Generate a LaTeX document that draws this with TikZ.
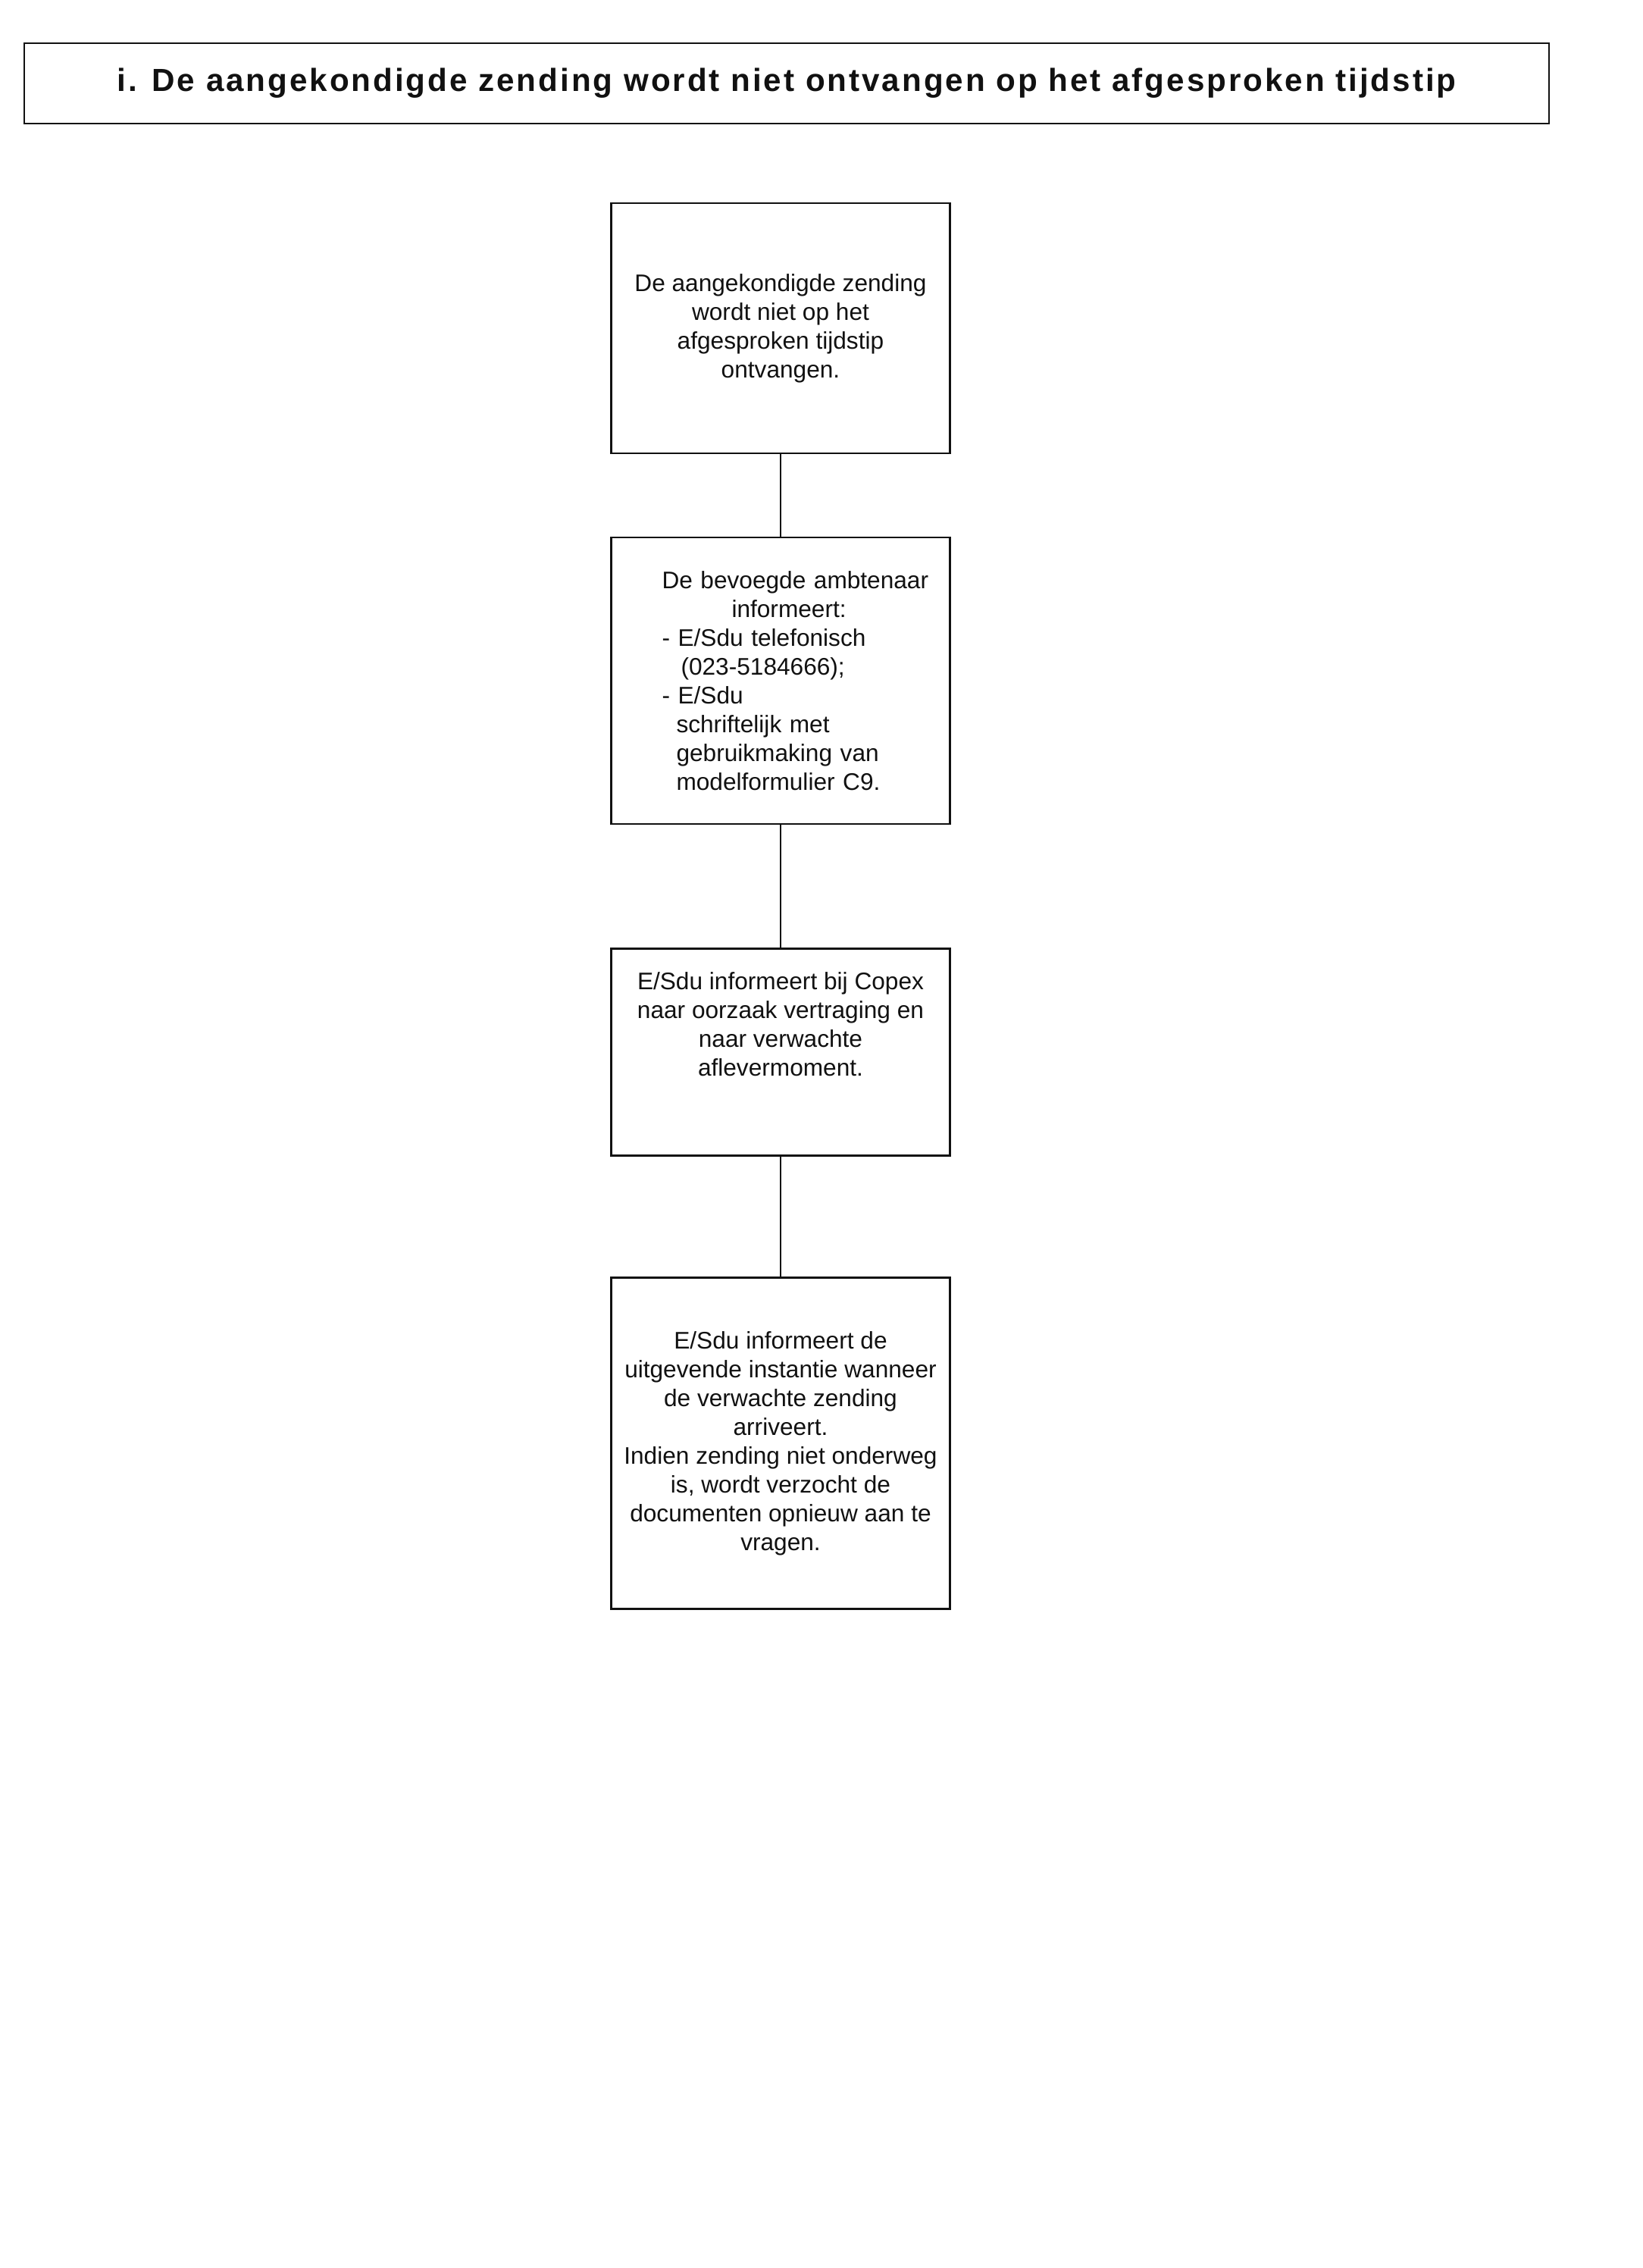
\documentclass[tikz,border=0pt]{standalone}
\usepackage{fontspec}
\setmainfont{Liberation Sans}
\usetikzlibrary{positioning}
\definecolor{scaninkt}{HTML}{111111}
\tikzset{
  stap/.style={draw=scaninkt, line width=0.6pt, fill=white, text=scaninkt,
    minimum width=4.47cm, align=center,
    font=\fontsize{9}{10.8}\selectfont},
  lijn/.style={draw=scaninkt, line width=0.8pt}
}
\newcommand{\stapblok}[4]{%
  \node[stap, minimum height=#3] (#1) at (10.30,#2) {#4};}

\begin{document}
\begin{tikzpicture}
  \useasboundingbox (0,0) rectangle (21.68,-29.92);
  \node[draw=scaninkt, line width=0.8pt, text=scaninkt,
        minimum width=20.12cm, minimum height=1.06cm,
        font=\fontsize{12}{14}\selectfont\bfseries\addfontfeature{LetterSpace=7}]
        (kop) at (10.38,-1.10)
        {i. De aangekondigde zending wordt niet ontvangen op het afgesproken tijdstip};
  \stapblok{b1}{-4.33}{3.30cm}{De aangekondigde zending\\
    wordt niet op het\\ afgesproken tijdstip\\ ontvangen.}
  \node[stap, minimum height=3.78cm, text width=4.47cm, inner xsep=0pt, align=left]
    (b2) at (10.30,-8.98) {%
    \hspace*{0.67cm}De bevoegde ambtenaar\\
    \hspace*{1.59cm}informeert:\\
    \hspace*{0.67cm}- E/Sdu telefonisch\\
    \hspace*{0.92cm}(023-5184666);\\
    \hspace*{0.67cm}- E/Sdu\\
    \hspace*{0.86cm}schriftelijk met\\
    \hspace*{0.86cm}gebruikmaking van\\
    \hspace*{0.86cm}modelformulier C9.};
  \stapblok{b3}{-13.88}{2.73cm}{E/Sdu informeert bij Copex\\
    naar oorzaak vertraging en\\ naar verwachte\\ aflevermoment.\\[0.36cm]}
  \stapblok{b4}{-19.04}{4.37cm}{E/Sdu informeert de\\
    uitgevende instantie wanneer\\ de verwachte zending\\ arriveert.\\
    Indien zending niet onderweg\\ is, wordt verzocht de\\
    documenten opnieuw aan te\\ vragen.}
  % verbindingen
  \draw[lijn] (b1) -- (b2);
  \draw[lijn] (b2) -- (b3);
  \draw[lijn] (b3) -- (b4);
\end{tikzpicture}
\end{document}
